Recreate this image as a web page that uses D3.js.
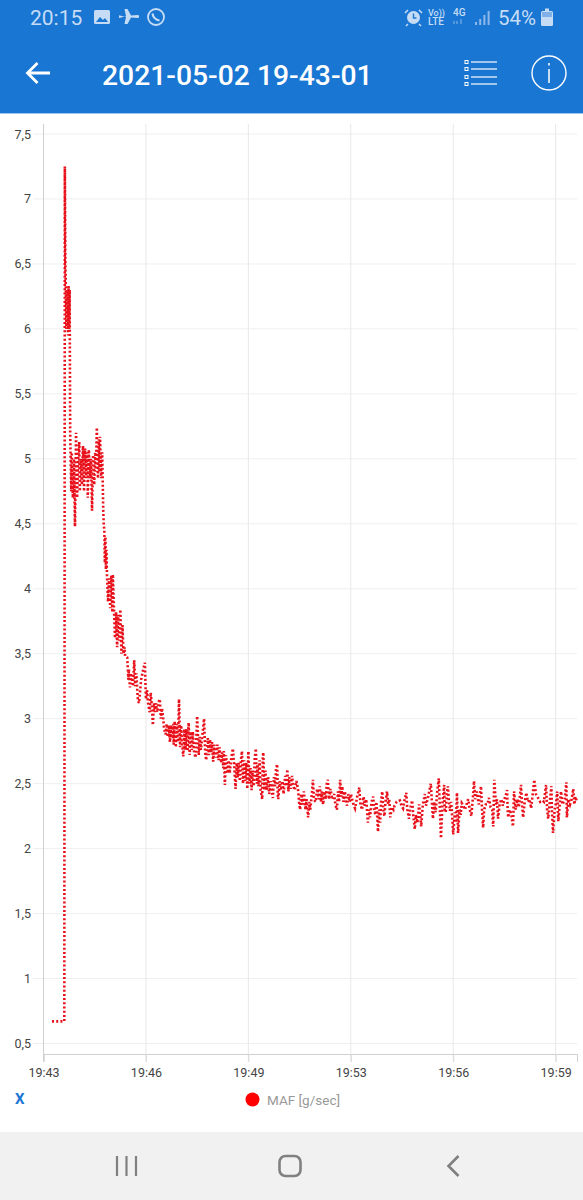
<!DOCTYPE html>
<html><head><meta charset="utf-8">
<script src="https://cdn.jsdelivr.net/npm/d3@7/dist/d3.min.js"></script>
<style>html,body{margin:0;padding:0;background:#fff}svg{display:block}text{font-family:Roboto,sans-serif}</style>
</head><body><div id="c"></div>
<script>
// Readings are [elapsed seconds after 19:43, MAF g/sec].
const idleReadings=[[16,.67],[22,.67],[39,.67]];
const spikeReadings=[[40,7.25],[41,6.5],[42,6.3],[43,6.0],[45,6.3],[46,5.95],[47,6.33],[48,6.0],[49,6.3]];
const plateauReadings=[[50,5.2],[52,4.75],[53,5.05],[55,4.7],[57,5.0],[59,4.48],[61,5.2],[63,4.7],[65,5.0],[67,5.13],[68,4.75],[70,5.0],[72,4.8],[74,5.1],[76,4.75],[78,5.08],[80,4.85],[82,5.05],[83,4.7],[85,5.07],[87,4.85],[89,5.0],[91,4.6],[93,5.03],[95,4.8],[97,5.05],[98,4.9],[100,5.24],[102,4.85],[104,5.15],[105,4.9],[106,5.17],[108,4.85],[110,5.05],[112,4.6],[113,4.49]];
const dropReadings=[[114,4.45],[115,4.2],[116,4.4],[117,4.15],[118,4.3],[119,4.1],[121,3.9],[123,4.08],[125,3.85],[127,4.1],[129,3.82],[130,4.11],[132,3.85],[134,3.62],[136,3.82],[138,3.55],[140,3.8],[142,3.6],[144,3.84],[146,3.5],[148,3.72],[150,3.5],[152,3.55],[153,3.48],[157,3.47],[159,3.3],[160,3.38],[162,3.24],[164,3.35],[166,3.3],[168,3.25],[170,3.45],[172,3.25],[174,3.35],[176,3.2],[177,3.14],[179,3.12],[183,3.3],[187,3.38],[190,3.43]];
const decayReadings=[[192,3.15],[194,3.22],[196,3.12],[199,3.05],[201,3.2],[203,3.1],[205,2.95],[207,3.12],[209,3.05],[211,3.12],[213,3.05],[216,3.13],[218,3.15],[220,3.0],[222,3.08],[224,3.02],[226,2.92],[229,2.88],[231,2.96],[233,2.86],[235,2.95],[237,2.82],[239,2.95],[241,2.85],[243,2.96],[244,2.8],[246,2.98],[248,2.78],[250,2.96],[252,2.82],[254,3.15],[256,2.78],[258,2.95],[260,2.8],[262,2.71],[264,2.92],[266,2.76],[268,2.92],[270,2.75],[272,2.97],[274,2.72],[276,2.9],[278,2.76],[280,2.9],[282,2.75],[285,2.7],[288,3.02],[291,2.72],[293,2.86],[295,2.76],[298,2.88],[301,3.0],[303,2.74],[305,2.68],[308,2.85],[310,2.72],[312,2.84],[314,2.74],[316,2.82],[318,2.67],[320,2.8],[323,2.7],[326,2.8],[328,2.68],[330,2.78],[333,2.66],[335,2.74],[337,2.62],[338,2.75],[340,2.49],[342,2.72],[345,2.58],[347,2.68],[349,2.58],[352,2.7],[355,2.77],[358,2.6],[360,2.46],[362,2.66],[364,2.55],[366,2.66],[368,2.52],[370,2.68],[372,2.75],[374,2.5],[376,2.68],[378,2.52],[380,2.66],[382,2.46]];
const lateDecayReadings=[[384,2.75],[386,2.5],[388,2.62],[390,2.45],[392,2.6],[394,2.48],[396,2.7],[398,2.77],[400,2.5],[401,2.65],[403,2.48],[405,2.68],[407,2.45],[410,2.38],[411,2.7],[412,2.74],[414,2.45],[416,2.6],[418,2.45],[421,2.55],[423,2.42],[426,2.52],[428,2.44],[430,2.39],[432,2.55],[434,2.48],[436,2.62],[438,2.65],[439,2.42],[440,2.38],[443,2.52],[445,2.45],[448,2.52],[450,2.42],[453,2.56],[455,2.48],[457,2.61],[459,2.44],[461,2.55],[463,2.46],[466,2.56],[468,2.48],[471,2.45],[474,2.52],[477,2.46],[479,2.36],[481,2.3],[483,2.42],[486,2.34],[488,2.44],[491,2.3],[493,2.38],[496,2.24],[498,2.36],[500,2.3],[503,2.42],[505,2.53],[507,2.38],[510,2.36],[513,2.46],[516,2.38],[518,2.48],[520,2.36],[522,2.44],[524,2.34],[527,2.44],[529,2.38],[531,2.5],[533,2.53],[535,2.38],[538,2.46],[541,2.38],[545,2.42],[547,2.34],[550,2.3],[552,2.44],[554,2.36],[556,2.53],[558,2.4],[560,2.48],[562,2.36],[565,2.44],[567,2.36],[569,2.33],[571,2.42],[574,2.36],[576,2.42]];
const settledReadings=[[578,2.39],[581,2.34],[584,2.31],[588,2.4],[592,2.47],[594,2.34],[597,2.3],[600,2.4],[602,2.33],[605,2.38],[608,2.2],[610,2.3],[612,2.24],[615,2.36],[618,2.4],[620,2.3],[622,2.26],[624,2.36],[627,2.13],[629,2.3],[631,2.2],[633,2.38],[635,2.44],[637,2.3],[639,2.25],[641,2.36],[644,2.44],[646,2.34],[648,2.38],[650,2.24],[653,2.32],[656,2.3],[658,2.33],[662,2.36],[668,2.37],[671,2.33],[674,2.31],[677,2.38],[680,2.43],[682,2.3],[685,2.23],[687,2.3],[691,2.37],[693,2.26],[696,2.15],[698,2.26],[701,2.2],[704,2.34],[706,2.26],[708,2.17],[711,2.34],[715,2.42],[717,2.33],[720,2.38],[723,2.44],[726,2.5],[728,2.36],[730,2.23],[732,2.36],[735,2.28],[738,2.44],[741,2.54],[743,2.3],[745,2.08],[748,2.36],[751,2.49],[752,2.3],[754,2.28],[756,2.42],[758,2.48],[760,2.36],[762,2.29],[764,2.36],[766,2.25],[768,2.11],[771,2.28],[773,2.2],[775,2.43],[776,2.3],[777,2.12],[780,2.3],[782,2.26],[784,2.35]];
const finalReadings=[[787,2.33],[790,2.3],[793,2.34],[796,2.38],[799,2.3],[802,2.25],[805,2.4],[807,2.52],[809,2.38],[812,2.44],[816,2.34],[818,2.42],[820,2.48],[822,2.3],[824,2.16],[826,2.3],[829,2.34],[832,2.34],[835,2.39],[838,2.32],[841,2.3],[843,2.17],[844,2.36],[845,2.53],[848,2.34],[850,2.38],[852,2.23],[855,2.34],[858,2.38],[861,2.33],[864,2.38],[867,2.42],[869,2.45],[870,2.3],[871,2.24],[874,2.3],[877,2.26],[880,2.17],[881,2.3],[882,2.44],[885,2.3],[888,2.38],[891,2.32],[895,2.49],[897,2.34],[899,2.24],[902,2.36],[905,2.43],[908,2.36],[911,2.38],[914,2.31],[917,2.42],[920,2.53],[923,2.42],[927,2.39],[931,2.36],[935,2.37],[938,2.36],[942,2.49],[944,2.3],[946,2.23],[949,2.36],[952,2.48],[953,2.3],[955,2.12],[958,2.3],[961,2.36],[963,2.44],[964,2.3],[965,2.21],[968,2.36],[970,2.44],[973,2.34],[977,2.38],[980,2.51],[981,2.24],[984,2.38],[987,2.34],[990,2.38],[993,2.46],[995,2.34],[997,2.4],[1000,2.36]];
const xTickSeconds=[0,192,384,576,768,960];
const xTickLabels=["19:43","19:46","19:49","19:53","19:56","19:59"];
const yTicks=[0.5,1,1.5,2,2.5,3,3.5,4,4.5,5,5.5,6,6.5,7,7.5];
const seriesName="MAF [g/sec]";
const titleText="2021-05-02 19-43-01";

const readings=[...idleReadings,...spikeReadings,...plateauReadings,...dropReadings,...decayReadings,...lateDecayReadings,...settledReadings,...finalReadings];
const W=583,H=1200,headerH=113,navY=1132,blue="#1976d3";
const svg=d3.select("#c").append("svg").attr("width",W).attr("height",H);
const x=d3.scaleLinear().domain([0,1000]).range([43.5,577]);
const y=d3.scaleLinear().domain([0.5,7.5]).range([1043.5,134]);
const plotTop=124,plotBottom=1054;

// Header
svg.append("rect").attr("width",W).attr("height",headerH).attr("fill",blue);
svg.append("rect").attr("y",headerH).attr("width",W).attr("height",1).attr("fill","#9cc3ec");
const statusC="#c6dcf5";
svg.append("text").attr("x",30).attr("y",25).attr("font-size",21).attr("fill",statusC).text("20:15");
const ic=svg.append("g").attr("fill",statusC).attr("stroke",statusC);
ic.append("rect").attr("x",94).attr("y",10).attr("width",16).attr("height",14).attr("rx",1.5).attr("stroke","none");
ic.append("path").attr("d","M96 22l4-5 3 3 2-2 3 4z").attr("fill",blue).attr("stroke","none");
ic.append("path").attr("stroke","none").attr("d","M119 18l7-1.800-1.500-7.200 3 0 3.500 6.500 7 -.5c1.500 0 1.500 3 0 3l-7-.5-3.500 6.500-3 0 1.500-7-7-1.800z");
ic.append("circle").attr("cx",156).attr("cy",17).attr("r",8).attr("fill","none").attr("stroke-width",1.8);
ic.append("path").attr("d","M152.500 13.500c.5 3.500 3.500 6.500 7 7").attr("fill","none").attr("stroke-width",2.2);
ic.append("circle").attr("cx",413.5).attr("cy",17.5).attr("r",6.5).attr("stroke","none");
ic.append("path").attr("d","M413.500 13.500v4.500h3").attr("fill","none").attr("stroke",blue).attr("stroke-width",1.4);
ic.append("path").attr("d","M405 13l3-3M422 13l-3-3M408 24l-2 2M419 24l2 2").attr("fill","none").attr("stroke-width",1.5);
const small=(t,xx,yy,fs)=>svg.append("text").attr("x",xx).attr("y",yy).attr("font-size",fs).attr("fill",statusC).attr("font-weight",500).text(t);
small("Vo))",428,16,9);small("LTE",428,25,10);small("4G",453,16,10);
svg.append("path").attr("d","M456 21v3M459 24v-3M463 19v5").attr("stroke","#8db8e8").attr("stroke-width",1).attr("transform","translate(-2,0)").attr("fill","none");
svg.append("g").attr("fill","#8db8e8").selectAll("rect").data([3,6,10,14]).join("rect").attr("x",(d,i)=>475+i*4.2).attr("y",d=>25-d).attr("width",2).attr("height",d=>d);
svg.append("text").attr("x",498).attr("y",25).attr("font-size",20.5).attr("fill",statusC).text("54%");
ic.append("rect").attr("x",541).attr("y",11).attr("width",12).attr("height",15).attr("rx",1.5).attr("stroke","none");
ic.append("rect").attr("x",545).attr("y",8.5).attr("width",4).attr("height",3).attr("stroke","none");
svg.append("rect").attr("x",542).attr("y",12).attr("width",10).attr("height",5).attr("fill","#7fb0e6");
svg.append("path").attr("d","M50 73H28M37.500 63L27.500 73l10 10").attr("stroke","#fff").attr("stroke-width",2.8).attr("fill","none");
svg.append("text").attr("x",102).attr("y",85).attr("font-size",28.3).attr("font-weight",500).attr("fill","#fff").text(titleText);
const menuRows=[62,69,77,84];
const mg=svg.append("g");
mg.selectAll("line").data(menuRows).join("line").attr("x1",471).attr("x2",497).attr("y1",d=>d).attr("y2",d=>d).attr("stroke","#fff").attr("stroke-width",1.2);
mg.selectAll("rect").data(menuRows).join("rect").attr("x",465).attr("y",d=>d-1.5).attr("width",3).attr("height",3).attr("fill","none").attr("stroke","#fff").attr("stroke-width",1);
svg.append("circle").attr("cx",549).attr("cy",73).attr("r",17).attr("fill","none").attr("stroke","#fff").attr("stroke-width",1.4);
svg.append("path").attr("d","M549 69v14M549 63v2.500").attr("stroke","#fff").attr("stroke-width",1.5).attr("fill","none");

// Grids
svg.append("g").selectAll("line").data(yTicks).join("line")
  .attr("x1",33).attr("x2",577).attr("y1",d=>y(d)).attr("y2",d=>y(d)).attr("stroke","#efefef").attr("stroke-width",1);
svg.append("g").selectAll("line").data(xTickSeconds.slice(1)).join("line")
  .attr("x1",d=>x(d)).attr("x2",d=>x(d)).attr("y1",plotTop).attr("y2",plotBottom+8).attr("stroke","#e8e8e8").attr("stroke-width",1);

// Axes
const xAxis=d3.axisBottom(x).tickValues(xTickSeconds).tickFormat((d,i)=>xTickLabels[i]).tickSize(8).tickPadding(6);
const xg=svg.append("g").attr("transform",`translate(0,${plotBottom})`).call(xAxis);
xg.select(".domain").attr("stroke","#d0d0d0");
xg.selectAll(".tick line").attr("stroke","#d8d8d8");
xg.selectAll("text").attr("font-size",12.5).attr("fill","#444").attr("font-family","Roboto");
svg.append("line").attr("x1",x(0)).attr("x2",x(0)).attr("y1",plotTop).attr("y2",plotBottom+8).attr("stroke","#d0d0d0").attr("stroke-width",1);
const yAxis=d3.axisLeft(y).tickValues(yTicks).tickFormat(d=>String(d).replace(".",",")).tickSize(0).tickPadding(0);
const yg=svg.append("g").attr("transform","translate(31,0)").call(yAxis);
yg.select(".domain").remove();
yg.selectAll("text").attr("font-size",12.5).attr("fill","#444").attr("font-family","Roboto");

// Series
const line=d3.line().x(d=>x(d[0])).y(d=>y(d[1]));
svg.append("path").datum(readings).attr("d",line).attr("fill","none").attr("stroke","#e8101a").attr("stroke-width",2.6).attr("stroke-dasharray","2 2.2");

// Legend
svg.append("text").attr("x",15).attr("y",1104).attr("font-size",15).attr("font-weight",700).attr("fill",blue).text("X");
svg.append("circle").attr("cx",252.5).attr("cy",1099.5).attr("r",7).attr("fill","#f00");
svg.append("text").attr("x",267).attr("y",1104.5).attr("font-size",13.5).attr("fill","#999").text(seriesName);

// Navigation bar
svg.append("rect").attr("y",navY).attr("width",W).attr("height",H-navY).attr("fill","#f1f1f1");
svg.append("path").attr("d","M117 1156v20M126.500 1156v20M136 1156v20").attr("stroke","#808080").attr("stroke-width",2.2).attr("fill","none");
svg.append("rect").attr("x",279.5).attr("y",1156).attr("width",21).attr("height",20).attr("rx",6).attr("fill","none").attr("stroke","#808080").attr("stroke-width",2.6);
svg.append("path").attr("d","M458.500 1156l-10 10 10 10").attr("stroke","#808080").attr("stroke-width",2.6).attr("fill","none");
</script></body></html>
